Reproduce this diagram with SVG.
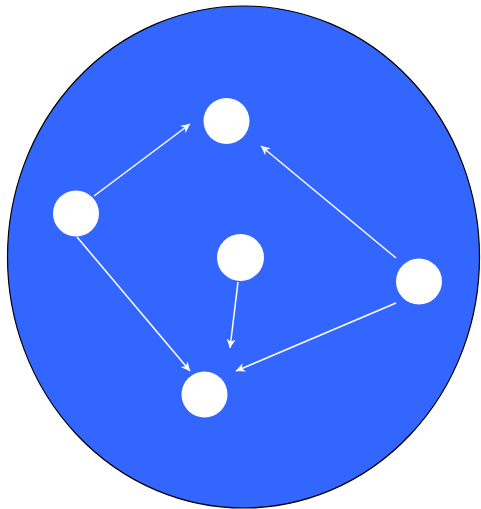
<svg xmlns="http://www.w3.org/2000/svg" width="481" height="509" viewBox="0 0 481 509">
<defs>
<style>
.bg{fill:#3366ff;stroke:#000;stroke-width:1.2}
.node{fill:#fff}
.edge{stroke:#fff;stroke-width:1.5;fill:none;marker-end:url(#arr)}
</style>
<marker id="arr" viewBox="0 0 10 10" refX="10" refY="5" markerWidth="9" markerHeight="9" markerUnits="userSpaceOnUse" orient="auto">
<path d="M0,0 L10,5 L0,10 L3,5 Z" fill="#fff"/>
</marker>
</defs>
<ellipse class="bg" cx="243.5" cy="257" rx="236" ry="251"/>
<g id="connectors">
<line class="edge" x1="94" y1="196" x2="190" y2="124"/>
<line class="edge" x1="77" y1="237" x2="190" y2="371"/>
<line class="edge" x1="396" y1="258" x2="261" y2="146"/>
<line class="edge" x1="396" y1="303" x2="236" y2="371"/>
<line class="edge" x1="238" y1="282" x2="230" y2="348"/>
</g>
<g id="n-top"><circle class="node" cx="226.5" cy="121" r="23"/></g>
<g id="n-left"><circle class="node" cx="76" cy="213.5" r="23"/></g>
<g id="n-center"><circle class="node" cx="240.5" cy="257.5" r="23.5"/></g>
<g id="n-right"><circle class="node" cx="419" cy="281.5" r="23"/></g>
<g id="n-bottom"><circle class="node" cx="204.5" cy="394.5" r="23"/></g>
</svg>
